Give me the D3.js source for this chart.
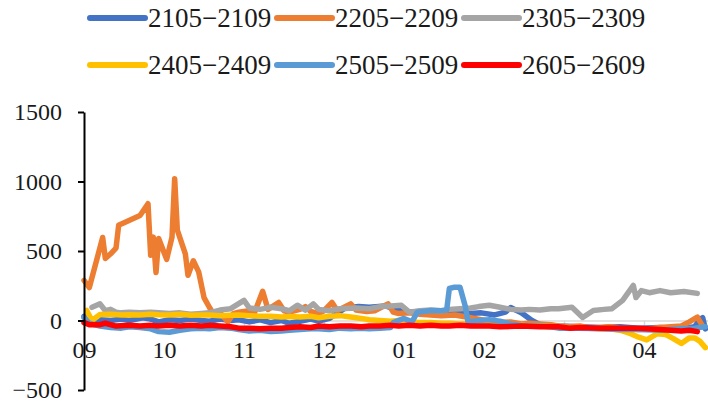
<!DOCTYPE html>
<html lang="en">
<head>
	<meta charset="UTF-8">
	<title>Spread</title>
	<script src="https://cdn.jsdelivr.net/npm/d3@7"></script>
	<style>
		html,body{
			margin:0;
			padding:0;
			background:#fff;
		}
		svg{
			display:block;
		}
		svg text{
			font-family:"Liberation Serif","Times New Roman",serif;
		}
		.line{
			fill:none;
			stroke-width:5.5;
			stroke-linejoin:round;
			stroke-linecap:round;
		}
	</style>
</head>
<body>
	<svg id="svg" width="708" height="403"></svg>
	<script>
		// x = calendar day counted from the start of Sep, value = spread
		var months = ["09","10","11","12","01","02","03","04"];
		var monthDays = [0,30,60,90,120,150,180,210];
		var yTicks = [-500,0,500,1000,1500];
		var names = ["2105\u22122109","2205\u22122209","2305\u22122309","2405\u22122409","2505\u22122509","2605\u22122609"];
		var colors = ["#4472C4","#ED7D31","#A5A5A5","#FFC000","#5B9BD5","#FF0000"];

		var s2105 = [[0,30],[2,10],[6,5],[10,0],[14,10],[17,0],[22,20],[25,10],[28,-10],[32,5],[36,0],[40,10],[44,0],[47,-5],[51,10],[55,0],[58,5],[62,-10],[66,5],[70,-15],[74,0],[77,-20],[81,-5],[85,10],[88,-5],[92,15],[98,90],[103,100],[107,95],[113,105],[117,80],[120,60],[126,65],[132,55],[136,65],[141,60],[145,50],[149,55],[154,40],[158,60],[160,94],[164,55],[168,0],[171,-30],[178,-40],[186,-45],[194,-50],[201,-45],[208,-55],[216,-50],[224,-60],[229,-45],[231,10],[232,20],[233,-60]];
		var s2205 = [[0,288],[2,237],[7,597],[8,446],[10,480],[12,520],[13,685],[14,695],[21,755],[24,840],[25,470],[26,600],[27,345],[28,590],[31,440],[33,600],[34,1020],[35,650],[38,480],[39,325],[41,430],[43,350],[45,165],[47,95],[48,65],[51,55],[54,-10],[56,50],[58,60],[62,70],[64,60],[67,210],[69,80],[73,130],[75,70],[77,60],[81,80],[83,100],[85,65],[88,50],[90,70],[93,130],[95,70],[100,120],[102,75],[106,65],[109,70],[114,120],[116,60],[118,50],[122,55],[126,45],[130,40],[134,35],[139,40],[145,20],[148,10],[152,-5],[156,-15],[160,-10],[164,-25],[167,-20],[171,-25],[175,-30],[178,-40],[182,-45],[186,-40],[190,-55],[194,-50],[197,-45],[201,-55],[205,-60],[208,-65],[212,-60],[216,-50],[220,-45],[224,-40],[227,-10],[230,25],[232,-40]];
		var s2305 = [[3,95],[6,120],[8,70],[10,80],[12,60],[14,55],[17,60],[21,55],[25,60],[28,55],[32,50],[36,55],[40,45],[44,50],[47,55],[51,75],[55,85],[60,145],[62,90],[66,80],[70,95],[74,85],[77,70],[80,110],[83,75],[86,120],[88,80],[92,70],[96,85],[102,90],[107,85],[111,100],[115,105],[119,110],[122,60],[126,70],[130,75],[134,70],[137,80],[141,85],[145,90],[148,100],[152,110],[156,95],[160,80],[164,75],[167,80],[171,75],[175,85],[178,85],[183,95],[187,22],[191,72],[195,80],[198,85],[202,145],[206,252],[207,165],[209,215],[212,200],[216,215],[220,200],[225,208],[230,195]];
		var s2405 = [[1,72],[3,0],[6,43],[10,45],[14,40],[17,42],[21,40],[25,45],[28,42],[32,40],[36,45],[40,38],[44,40],[47,40],[51,35],[55,38],[58,40],[62,35],[66,30],[70,30],[74,25],[77,28],[81,25],[85,30],[88,20],[92,30],[96,35],[100,25],[104,15],[107,5],[111,0],[115,-5],[118,0],[122,-10],[126,-15],[130,-15],[134,-20],[137,-20],[141,-25],[145,-20],[148,-30],[152,-30],[156,-35],[160,-30],[164,-35],[167,-40],[171,-40],[175,-45],[178,-50],[182,-55],[186,-50],[190,-55],[194,-60],[197,-60],[201,-70],[205,-95],[208,-120],[211,-140],[215,-95],[218,-100],[221,-130],[224,-165],[227,-125],[229,-125],[231,-150],[233,-195]];
		var s2505 = [[0,20],[2,-20],[6,-40],[10,-50],[14,-55],[17,-45],[21,-50],[25,-60],[28,-80],[32,-85],[36,-70],[40,-60],[44,-55],[47,-60],[51,-50],[55,-55],[58,-65],[62,-75],[66,-70],[70,-80],[74,-75],[77,-70],[81,-65],[85,-60],[88,-60],[92,-65],[96,-55],[100,-60],[104,-55],[107,-60],[111,-55],[115,-50],[116,-15],[120,15],[123,-10],[125,60],[130,72],[134,70],[136,75],[137,230],[139,240],[141,240],[143,100],[144,-10],[148,0],[152,5],[156,-5],[160,-25],[164,-35],[167,-40],[171,-40],[175,-45],[178,-55],[186,-55],[194,-60],[201,-65],[208,-65],[216,-70],[224,-60],[229,-55],[233,-45]];
		var s2605 = [[0,-15],[2,-30],[6,-30],[8,-20],[12,-40],[17,-35],[21,-40],[25,-35],[28,-40],[32,-35],[36,-40],[40,-35],[44,-40],[47,-35],[51,-40],[55,-45],[58,-55],[62,-55],[66,-60],[70,-55],[74,-55],[77,-50],[81,-45],[85,-50],[88,-40],[92,-45],[96,-40],[100,-40],[104,-45],[107,-40],[111,-40],[115,-35],[118,-40],[122,-35],[126,-40],[130,-35],[134,-40],[137,-40],[141,-35],[145,-40],[148,-40],[152,-40],[156,-45],[164,-40],[171,-45],[178,-45],[182,-55],[186,-50],[194,-55],[201,-55],[208,-55],[216,-65],[224,-75],[227,-70],[230,-80]];

		var series = [s2105,s2205,s2305,s2405,s2505,s2605];

		var svg = d3.select("svg");

		var x = d3.scaleLinear().domain([0,240]).range([84,724]);
		var y = d3.scaleLinear().domain([-500,1500]).range([390,112]);

		// zero line with month labels
		var xAxis = svg.append("g")
			.attr("transform","translate(0,"+y(0)+")")
			.call(d3.axisBottom(x)
				.tickValues(monthDays)
				.tickFormat((d,i)=>months[i])
				.tickSize(5)
				.tickSizeOuter(0)
				.tickPadding(15));
		xAxis.attr("font-family",null).attr("font-size",24);
		xAxis.select(".domain").attr("stroke","#d9d9d9").attr("stroke-width",1.5);
		xAxis.selectAll(".tick line").attr("stroke","#d9d9d9").attr("stroke-width",1.5);
		xAxis.selectAll("text").attr("fill","#1a1a1a");

		var line = d3.line()
			.x((d)=>{return x(d[0]);})
			.y((d)=>{return y(d[1]);});

		svg.append("g").selectAll("path")
			.data(series)
			.enter().append("path")
			.attr("class","line")
			.attr("stroke",(d,i)=>{return colors[i];})
			.attr("d",line);

		var yAxis = svg.append("g")
			.attr("transform","translate("+x(0)+",0)")
			.call(d3.axisLeft(y)
				.tickValues(yTicks)
				.tickFormat(d3.format("d"))
				.tickSize(6)
				.tickSizeOuter(0)
				.tickPadding(16));
		yAxis.attr("font-family",null).attr("font-size",24);
		yAxis.select(".domain").attr("stroke","#000").attr("stroke-width",2);
		yAxis.selectAll(".tick line").attr("stroke","#000").attr("stroke-width",2);
		yAxis.selectAll("text").attr("fill","#1a1a1a");

		// legend, three per row
		var legend = svg.append("g").selectAll("g")
			.data(names)
			.enter().append("g")
			.attr("transform",(d,i)=>{
				return "translate("+(90+(i%3)*187)+","+(18+Math.floor(i/3)*47)+")";
			});
		legend.append("line")
			.attr("x1",0).attr("x2",55)
			.attr("stroke",(d,i)=>{return colors[i];})
			.attr("stroke-width",6)
			.attr("stroke-linecap","round");
		legend.append("text")
			.attr("x",58)
			.attr("dy","0.34em")
			.attr("font-size",27)
			.attr("fill","#1a1a1a")
			.text((d)=>{return d;});
	</script>
</body>
</html>
